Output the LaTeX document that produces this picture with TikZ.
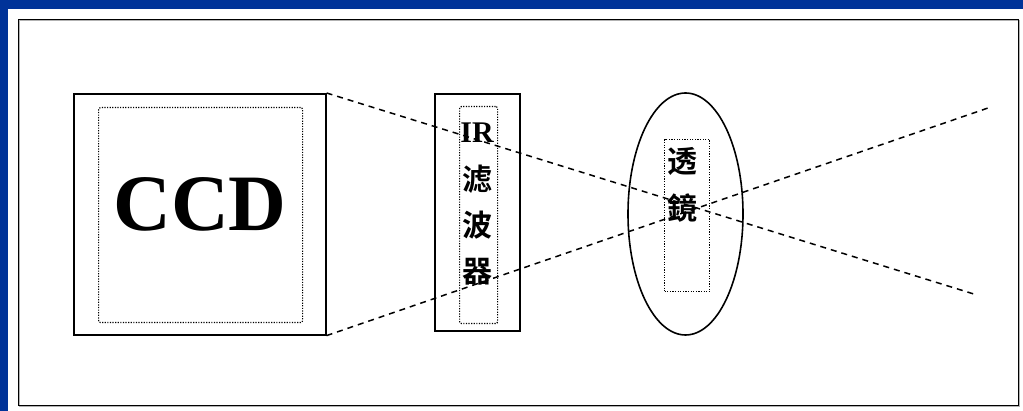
\documentclass[tikz,border=0pt]{standalone}
\usepackage{fontspec}
\usetikzlibrary{shapes.geometric}
\setmainfont{Liberation Serif}
\newfontfamily\cjk{Noto Sans CJK SC}[BoldFont={* Bold}]
\definecolor{slideblue}{HTML}{003399}
\begin{document}
\begin{tikzpicture}[x=1pt,y=-1pt,
  solidbox/.style={draw=black,line width=1.6pt},
  dotbox/.style={draw=black,line width=1.2pt,dash pattern=on 1.2pt off 1.4pt},
  ray/.style={draw=black,line width=1.5pt,dash pattern=on 6pt off 5pt},
  cjktext/.style={font=\cjk\bfseries\fontsize{30}{32}\selectfont,inner sep=0pt}]
\useasboundingbox (0,0) rectangle (1023,411);
\fill[slideblue] (0,0) rectangle (1023,411);
\fill[white] (8,9) rectangle (1023,411);
\draw[gray!60,line width=1pt] (19.5,20.5) rectangle (1019.5,406.5);
\draw[black,line width=1.8pt] (18.5,19.5) rectangle (1018.5,405.5);
% CCD
\node[solidbox,minimum width=252pt,minimum height=241pt,anchor=north west,inner sep=0pt] (ccd) at (73,93) {};
\node[dotbox,minimum width=204pt,minimum height=215pt,anchor=north west,inner sep=0pt,rounded corners=2pt] (ccdin) at (98,107) {};
\node[font=\bfseries\fontsize{80}{80}\selectfont,inner sep=0pt] (ccdt) at (200,204) {CCD};
% IR filter
\node[solidbox,minimum width=85pt,minimum height=237pt,anchor=north west,inner sep=0pt] (ir) at (434,93) {};
\node[dotbox,minimum width=38pt,minimum height=217pt,anchor=north west,inner sep=0pt,rounded corners=2pt] (irin) at (459,106) {};
\node[font=\bfseries\fontsize{30}{30}\selectfont,inner sep=0pt] (irt) at (477,133) {IR};
\node[cjktext] (c1) at (477,179) {滤};
\node[cjktext] (c2) at (477,225) {波};
\node[cjktext] (c3) at (477,272) {器};
% lens
\node[draw=black,line width=1.6pt,ellipse,minimum width=115pt,minimum height=242pt,inner sep=0pt] (lens) at (685.5,214) {};
\node[dotbox,minimum width=45pt,minimum height=152pt,anchor=north west,inner sep=0pt] (lensin) at (664,139) {};
\node[cjktext] (l1) at (682,161) {透};
\node[cjktext] (l2) at (682,208) {鏡};
% rays
\coordinate (e1) at (977,295);
\coordinate (e2) at (988,108);
\draw[ray] (ccd.north east) -- (e1);
\draw[ray] (ccd.south east) -- (e2);
\end{tikzpicture}
\end{document}
